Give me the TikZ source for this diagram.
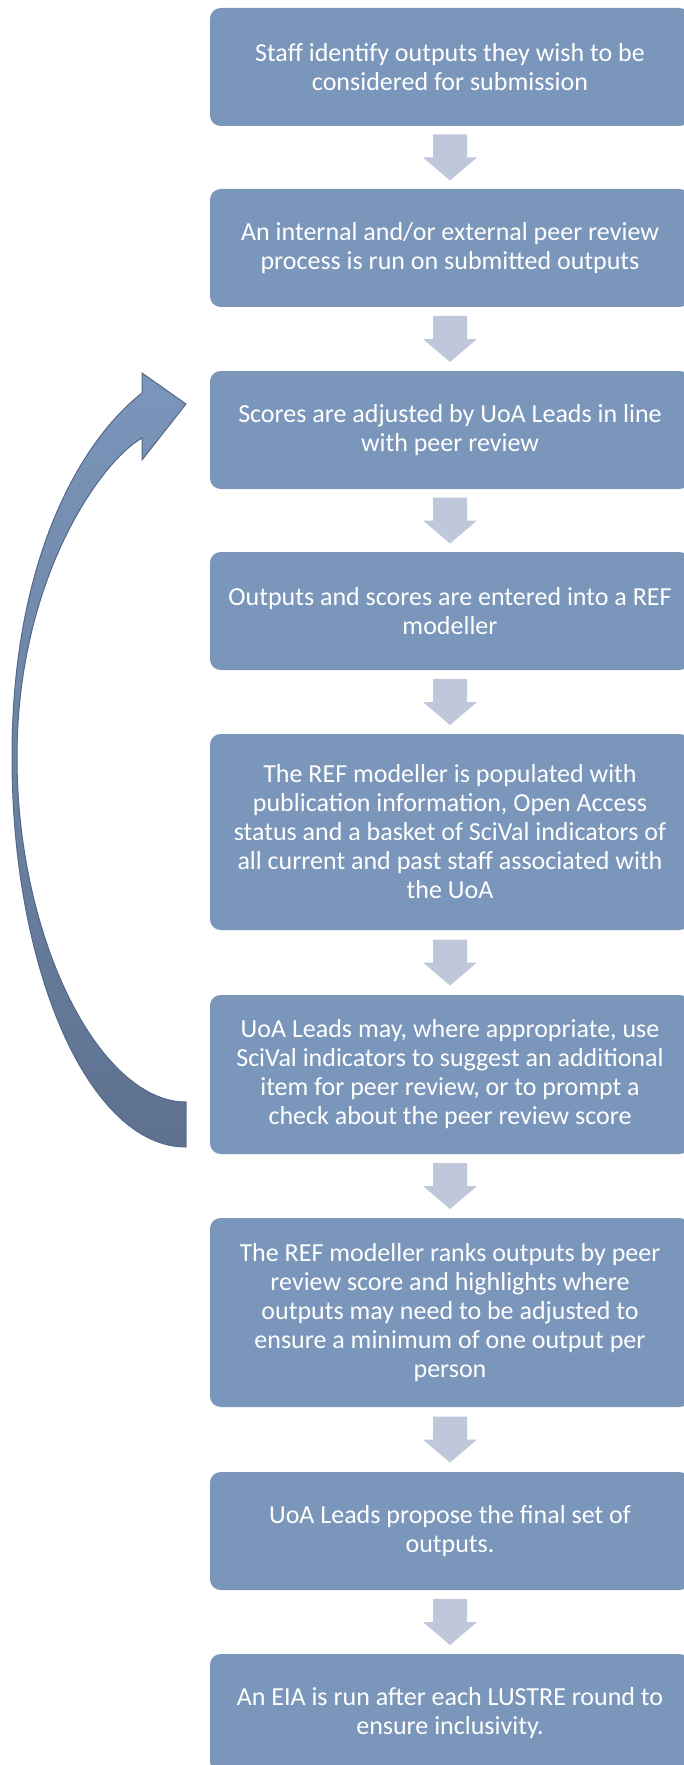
\documentclass[tikz,border=0pt]{standalone}
\usepackage{fontspec}
\setmainfont{Carlito}
\usetikzlibrary{calc}
\definecolor{boxblue}{RGB}{123,150,187}
\definecolor{lightarrow}{RGB}{190,200,218}
\definecolor{darkarrow}{RGB}{94,113,143}
\definecolor{arrowedge}{RGB}{84,104,136}
\tikzset{
  stepbox/.style={rectangle, rounded corners=8pt, fill=boxblue, text=white,
    align=center, inner sep=0pt, minimum width=360pt,
    font=\fontsize{19.5}{21.75}\selectfont},
  smallarrow/.style={fill=lightarrow},
}
\begin{document}
\begin{tikzpicture}[x=0.75pt, y=-0.75pt]
\useasboundingbox (0,0) rectangle (684,1765);
\clip (0,0) rectangle (684,1765);
\node[stepbox, minimum height=88.5pt] (b1) at (450,67) {Staff identify outputs they wish to be\\considered for submission};
\node[stepbox, minimum height=88.5pt] (b2) at (450,248) {An internal and/or external peer review\\process is run on submitted outputs};
\node[stepbox, minimum height=88.5pt] (b3) at (450,430) {Scores are adjusted by UoA Leads in line\\with peer review};
\node[stepbox, minimum height=88.5pt] (b4) at (450,611) {Outputs and scores are entered into a REF\\modeller};
\node[stepbox, minimum height=147pt] (b5) at (450,832) {The REF modeller is populated with\\publication information, Open Access\\status and a basket of SciVal indicators of\\all current and past staff associated with\\the UoA};
\node[stepbox, minimum height=119.25pt] (b6) at (450,1074.5) {UoA Leads may, where appropriate, use\\SciVal indicators to suggest an additional\\item for peer review, or to prompt a\\check about the peer review score};
\node[stepbox, minimum height=141.75pt] (b7) at (450,1312.5) {The REF modeller ranks outputs by peer\\review score and highlights where\\outputs may need to be adjusted to\\ensure a minimum of one output per\\person};
\node[stepbox, minimum height=88.5pt] (b8) at (450,1531) {UoA Leads propose the final set of\\outputs.};
\node[stepbox, minimum height=88.5pt] (b9) at (450,1713) {An EIA is run after each LUSTRE round to\\ensure inclusivity.};
\foreach \a/\b in {b1/b2,b2/b3,b3/b4,b4/b5,b5/b6,b6/b7,b7/b8,b8/b9}{
  \coordinate (m) at ($(\a.south)!0.5!(\b.north)$);
  \fill[smallarrow, shift={(m)}] (-17,-23) -- (17,-23) -- (17,0) -- (27,0) -- (0,23) -- (-27,0) -- (-17,0) -- cycle;
}
\coordinate (tip) at (186,404);
\shade[top color=boxblue, bottom color=darkarrow, draw=arrowedge, line width=0.75pt, line join=miter]
  (142,393) .. controls (82,440) and (12,557) .. (12,757)
  .. controls (12,972) and (90,1147) .. (186,1147)
  -- (186,1102)
  .. controls (100,1102) and (17,940) .. (17,757)
  .. controls (17,580) and (100,462) .. (142,438)
  -- (142,460) -- (tip) -- (142,373) -- cycle;
\end{tikzpicture}
\end{document}
